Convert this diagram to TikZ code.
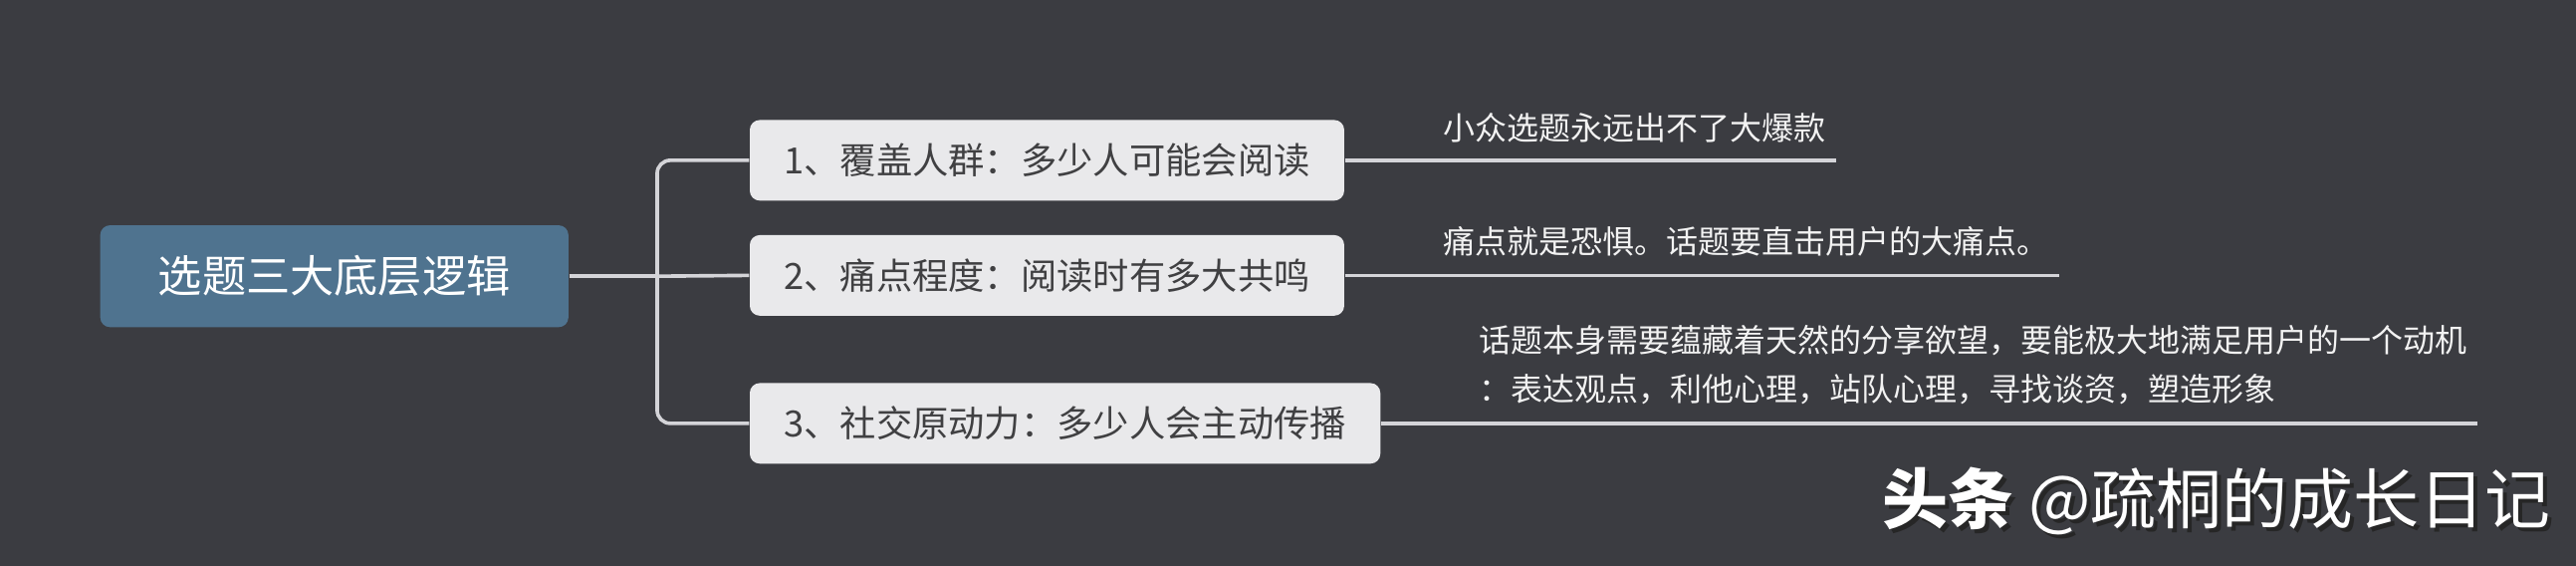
\documentclass[tikz,border=0pt]{standalone}
\usepackage{fontspec}
\setmainfont{Noto Sans CJK SC}
\usepackage{tikz}
\usetikzlibrary{positioning}

\definecolor{bgdark}{RGB}{59,60,65}
\definecolor{rootblue}{RGB}{79,115,143}
\definecolor{topicgray}{RGB}{233,233,235}
\definecolor{topictext}{RGB}{64,64,66}
\definecolor{linegray}{RGB}{212,212,216}
\definecolor{notewhite}{RGB}{242,242,242}

\begin{document}
\begin{tikzpicture}[x=0.5pt,y=-0.5pt,
  rootbox/.style={fill=rootblue, rounded corners=3pt, text=white, inner sep=0pt,
    minimum width=142.5pt, minimum height=31pt, font=\fontsize{13.4}{16}\selectfont},
  topicbox/.style={fill=topicgray, rounded corners=3pt, text=topictext, anchor=west,
    inner xsep=10.4pt, inner ysep=0pt, minimum height=24.5pt, font=\fontsize{11}{13}\selectfont},
  note/.style={text=notewhite, anchor=west, align=left, inner xsep=3pt, inner ysep=0pt,
    font=\fontsize{9.7}{15}\selectfont},
  link/.style={draw=linegray, line width=1.1pt},
  brandtag/.style={anchor=east, inner sep=0pt, font=\fontsize{20}{22}\selectfont}]
%background, sets the size of the page
\fill[bgdark] (0,0) rectangle (1568,344);
\useasboundingbox (0,0) rectangle (1568,344);

%Root
\node[rootbox] (root) at (203.5,168) {选题三大底层逻辑};

%Topics
\node[topicbox] (c1) at (456,97.5) {1、覆盖人群：多少人可能会阅读};
\node[topicbox] (c2) at (456,167.5) {2、痛点程度：阅读时有多大共鸣};
\node[topicbox] (c3) at (456,257.5) {3、社交原动力：多少人会主动传播};

%Notes
\node[note] (n1) at (872,78) {小众选题永远出不了大爆款};
\node[note] (n2) at (872,147) {痛点就是恐惧。话题要直击用户的大痛点。};
\node[note] (n3) at (894,222) {话题本身需要蕴藏着天然的分享欲望，要能极大地满足用户的一个动机\\：表达观点，利他心理，站队心理，寻找谈资，塑造形象};

%Connectors
\coordinate (fork) at (400,168);
\draw[link] (root.east) -- (fork);
\draw[link, rounded corners=4pt] (c1.west) -| (fork) |- (c3.west);
\draw[link] (fork) -- (c2.west);
\draw[link] (c1.east) -- (c1.east -| n1.east);
\draw[link] (c2.east) -- (c2.east -| n2.east);
\draw[link] (c3.east) -- (c3.east -| n3.east);

%Watermark
\node[brandtag, text=black!85] (tagshade) at (1555.5,307.5) {\textbf{头条} @疏桐的成长日记};
\node[brandtag, text=white] (tag) at (1553,305) {\textbf{头条} @疏桐的成长日记};
\end{tikzpicture}
\end{document}
